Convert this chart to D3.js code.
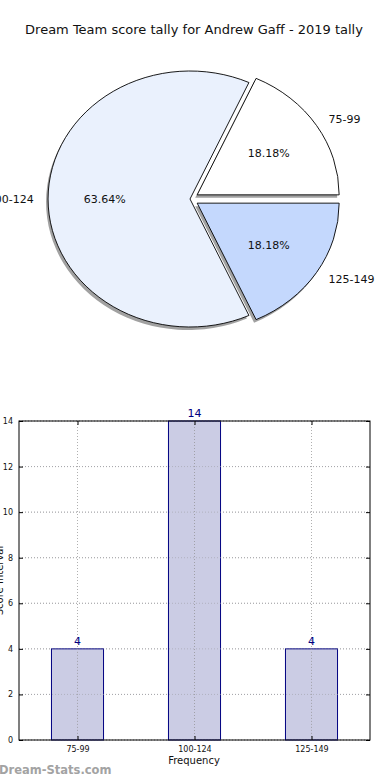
<!DOCTYPE html>
<html><head><meta charset="utf-8">
<script src="https://cdn.jsdelivr.net/npm/d3@7"></script>
<style>body{margin:0;background:#fff;} svg{display:block;font-family:"DejaVu Sans",sans-serif;}</style>
</head><body>
<script>
const categories = ["75-99", "100-124", "125-149"];
const counts = [4, 14, 4];
const pieColors = ["#ffffff", "#eaf1fd", "#c4d8fd"];
const explode = [0.06, 0, 0.06];
const yTicks = [0, 2, 4, 6, 8, 10, 12, 14];
const title = "Dream Team score tally for Andrew Gaff - 2019 tally";

const W = 390, H = 780;
const svg = d3.select("body").append("svg").attr("width", W).attr("height", H);

svg.append("text").attr("x", 194).attr("y", 34).attr("text-anchor", "middle")
  .attr("font-size", 13).attr("fill", "#111").text(title);

// ---- Pie (elliptical, matplotlib-like: start at east, counterclockwise)
const cx = 190, cy = 199, rx = 142, ry = 128;
const total = d3.sum(counts);
const pie = d3.pie().sort(null).value(d => d)
  .startAngle(Math.PI / 2).endAngle(Math.PI / 2 - 2 * Math.PI);
const arcs = pie(counts);
const arcGen = d3.arc().innerRadius(0).outerRadius(1);
const gPie = svg.append("g");
const fmt = d3.format(".2f");

function geom(a, i) {
  const mid = (a.startAngle + a.endAngle) / 2;
  const theta = Math.PI / 2 - mid;
  const ox = cx + explode[i] * rx * Math.cos(theta);
  const oy = cy - explode[i] * ry * Math.sin(theta);
  const s = Math.min(a.startAngle, a.endAngle), e = Math.max(a.startAngle, a.endAngle);
  return {theta, ox, oy, path: arcGen({startAngle: s, endAngle: e})};
}

arcs.forEach((a, i) => {
  const gm = geom(a, i);
  gPie.append("path").attr("d", gm.path)
    .attr("transform", `translate(${gm.ox - 2},${gm.oy + 3}) scale(${rx},${ry})`)
    .attr("fill", "#8a8a8a").attr("opacity", 0.8);
});
arcs.forEach((a, i) => {
  const gm = geom(a, i);
  gPie.append("path").attr("d", gm.path)
    .attr("transform", `translate(${gm.ox},${gm.oy}) scale(${rx},${ry})`)
    .attr("fill", pieColors[i]).attr("stroke", "#000")
    .attr("stroke-width", 0.9).attr("vector-effect", "non-scaling-stroke");
  const c = Math.cos(gm.theta), sn = Math.sin(gm.theta);
  const lx = gm.ox + 1.1 * rx * c, ly = gm.oy - 1.1 * ry * sn;
  gPie.append("text").attr("x", lx).attr("y", ly).attr("dy", "0.35em")
    .attr("text-anchor", c > 0 ? "start" : "end")
    .attr("font-size", 11).attr("fill", "#111").text(categories[i]);
  const px = gm.ox + 0.6 * rx * c, py = gm.oy - 0.6 * ry * sn;
  gPie.append("text").attr("x", px).attr("y", py).attr("dy", "0.35em")
    .attr("text-anchor", "middle")
    .attr("font-size", 11).attr("fill", "#111").text(fmt(counts[i] / total * 100) + "%");
});

// ---- Bar chart
const L = 19, R = 370, T = 421, B = 740;
const x = d3.scaleLinear().domain([-0.5, 2.5]).range([L, R]);
const y = d3.scaleLinear().domain([0, 14]).range([B, T]);
const g = svg.append("g");
const barW = 0.445;

g.selectAll(".gy").data(yTicks).join("line")
  .attr("x1", L).attr("x2", R).attr("y1", d => y(d)).attr("y2", d => y(d))
  .attr("stroke", "#b0b0b0").attr("stroke-width", 1).attr("stroke-dasharray", "1,2");
g.selectAll(".gx").data(categories).join("line")
  .attr("x1", (d, i) => x(i)).attr("x2", (d, i) => x(i)).attr("y1", T).attr("y2", B)
  .attr("stroke", "#b0b0b0").attr("stroke-width", 1).attr("stroke-dasharray", "1,2");

g.selectAll(".bar").data(counts).join("rect")
  .attr("x", (d, i) => x(i - barW / 2)).attr("width", x(barW) - x(0))
  .attr("y", d => y(d)).attr("height", d => B - y(d))
  .attr("fill", "#cbcce4").attr("stroke", "#000080").attr("stroke-width", 1);
g.selectAll(".gx2").data(categories).join("line")
  .attr("x1", (d, i) => x(i)).attr("x2", (d, i) => x(i))
  .attr("y1", (d, i) => y(counts[i])).attr("y2", B)
  .attr("stroke", "#a0a0a8").attr("stroke-width", 1).attr("stroke-dasharray", "1,2");
g.selectAll(".gy2").data(yTicks).join("line")
  .attr("x1", L).attr("x2", R).attr("y1", d => y(d)).attr("y2", d => y(d))
  .attr("stroke", "#a0a0a8").attr("stroke-width", 1).attr("stroke-dasharray", "1,2")
  .attr("opacity", 0.6);

g.selectAll(".val").data(counts).join("text")
  .attr("x", (d, i) => x(i)).attr("y", d => y(d) - 4)
  .attr("text-anchor", "middle").attr("font-size", 11).attr("fill", "#000080")
  .text(d => d);

g.append("rect").attr("x", L).attr("y", T).attr("width", R - L).attr("height", B - T)
  .attr("fill", "none").attr("stroke", "#000").attr("stroke-width", 1);

const yAxis = d3.axisLeft(y).tickValues(yTicks).tickSize(-4).tickPadding(6);
const ga = g.append("g").attr("transform", `translate(${L},0)`).call(yAxis);
ga.select(".domain").remove();
ga.selectAll("text").attr("font-size", 8).attr("font-family", "DejaVu Sans").attr("fill", "#111");
const yAxisR = d3.axisRight(y).tickValues(yTicks).tickSize(-4).tickFormat("");
const gr = g.append("g").attr("transform", `translate(${R},0)`).call(yAxisR);
gr.select(".domain").remove();

const xAxis = d3.axisBottom(x).tickValues([0, 1, 2]).tickFormat(i => categories[i]).tickSize(-4).tickPadding(6);
const gx = g.append("g").attr("transform", `translate(0,${B})`).call(xAxis);
gx.select(".domain").remove();
gx.selectAll("text").attr("font-size", 8).attr("font-family", "DejaVu Sans").attr("fill", "#111");
const xAxisT = d3.axisTop(x).tickValues([0, 1, 2]).tickSize(-4).tickFormat("");
const gt = g.append("g").attr("transform", `translate(0,${T})`).call(xAxisT);
gt.select(".domain").remove();

svg.append("text").attr("x", 194).attr("y", 764).attr("text-anchor", "middle")
  .attr("font-size", 10).attr("fill", "#111").text("Frequency");
svg.append("text").attr("transform", `translate(3,${(T + B) / 2}) rotate(-90)`)
  .attr("text-anchor", "middle").attr("font-size", 10).attr("fill", "#111").text("Score Interval");

svg.append("text").attr("x", -1).attr("y", 774).attr("font-size", 11.5).attr("font-weight", "bold")
  .attr("fill", "#a3a3a3").text("Dream-Stats.com");
</script>
</body></html>
